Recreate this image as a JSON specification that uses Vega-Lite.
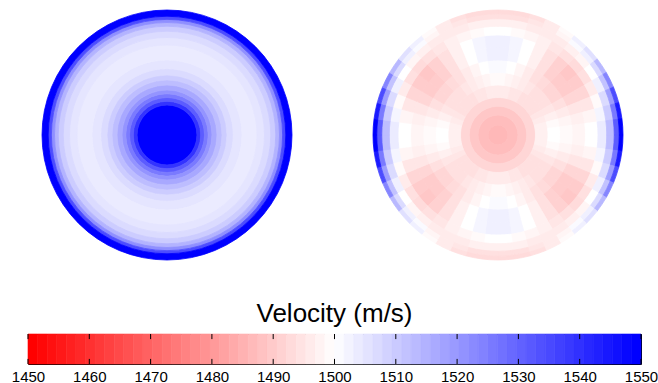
{
  "$schema": "https://vega.github.io/schema/vega-lite/v6.json",
  "background": "white",
  "padding": {"left": 10, "top": 8, "right": 0, "bottom": 0},
  "config": {"view": {"stroke": null}},
  "datasets": {
    "left": [
      {"r":0,"r2":0.24,"t":0,"t2":360,"v":1550},
      {"r":0.24,"r2":0.27,"t":0,"t2":360,"v":1540},
      {"r":0.27,"r2":0.30,"t":0,"t2":360,"v":1532},
      {"r":0.30,"r2":0.33,"t":0,"t2":360,"v":1526},
      {"r":0.33,"r2":0.36,"t":0,"t2":360,"v":1521},
      {"r":0.36,"r2":0.40,"t":0,"t2":360,"v":1517},
      {"r":0.40,"r2":0.44,"t":0,"t2":360,"v":1513},
      {"r":0.44,"r2":0.48,"t":0,"t2":360,"v":1510},
      {"r":0.48,"r2":0.53,"t":0,"t2":360,"v":1507},
      {"r":0.53,"r2":0.60,"t":0,"t2":360,"v":1505},
      {"r":0.60,"r2":0.72,"t":0,"t2":360,"v":1504},
      {"r":0.72,"r2":0.78,"t":0,"t2":360,"v":1505},
      {"r":0.78,"r2":0.83,"t":0,"t2":360,"v":1507},
      {"r":0.83,"r2":0.87,"t":0,"t2":360,"v":1510},
      {"r":0.87,"r2":0.90,"t":0,"t2":360,"v":1515},
      {"r":0.90,"r2":0.925,"t":0,"t2":360,"v":1522},
      {"r":0.925,"r2":0.95,"t":0,"t2":360,"v":1535},
      {"r":0.95,"r2":1.0,"t":0,"t2":360,"v":1550}
    ],
    "right": [
      {"r":0,"r2":0.08,"t":0,"t2":360,"v":1486},
      {"r":0.08,"r2":0.16,"t":0,"t2":360,"v":1487},
      {"r":0.16,"r2":0.23,"t":0,"t2":360,"v":1489},
      {"r":0.23,"r2":0.3,"t":0,"t2":360,"v":1492},

      {"r":0.3,"r2":0.4,"t":0,"t2":7.5,"v":1496},
      {"r":0.3,"r2":0.4,"t":7.5,"t2":15,"v":1496},
      {"r":0.3,"r2":0.4,"t":15,"t2":22.5,"v":1495},
      {"r":0.3,"r2":0.4,"t":22.5,"t2":30,"v":1495},
      {"r":0.3,"r2":0.4,"t":30,"t2":37.5,"v":1494},
      {"r":0.3,"r2":0.4,"t":37.5,"t2":45,"v":1494},
      {"r":0.3,"r2":0.4,"t":45,"t2":52.5,"v":1494},
      {"r":0.3,"r2":0.4,"t":52.5,"t2":60,"v":1494},
      {"r":0.3,"r2":0.4,"t":60,"t2":67.5,"v":1495},
      {"r":0.3,"r2":0.4,"t":67.5,"t2":75,"v":1496},
      {"r":0.3,"r2":0.4,"t":75,"t2":82.5,"v":1497},
      {"r":0.3,"r2":0.4,"t":82.5,"t2":90,"v":1497},
      {"r":0.3,"r2":0.4,"t":90,"t2":97.5,"v":1497},
      {"r":0.3,"r2":0.4,"t":97.5,"t2":105,"v":1497},
      {"r":0.3,"r2":0.4,"t":105,"t2":112.5,"v":1496},
      {"r":0.3,"r2":0.4,"t":112.5,"t2":120,"v":1495},
      {"r":0.3,"r2":0.4,"t":120,"t2":127.5,"v":1494},
      {"r":0.3,"r2":0.4,"t":127.5,"t2":135,"v":1494},
      {"r":0.3,"r2":0.4,"t":135,"t2":142.5,"v":1494},
      {"r":0.3,"r2":0.4,"t":142.5,"t2":150,"v":1494},
      {"r":0.3,"r2":0.4,"t":150,"t2":157.5,"v":1495},
      {"r":0.3,"r2":0.4,"t":157.5,"t2":165,"v":1495},
      {"r":0.3,"r2":0.4,"t":165,"t2":172.5,"v":1496},
      {"r":0.3,"r2":0.4,"t":172.5,"t2":180,"v":1496},
      {"r":0.3,"r2":0.4,"t":180,"t2":187.5,"v":1496},
      {"r":0.3,"r2":0.4,"t":187.5,"t2":195,"v":1496},
      {"r":0.3,"r2":0.4,"t":195,"t2":202.5,"v":1495},
      {"r":0.3,"r2":0.4,"t":202.5,"t2":210,"v":1495},
      {"r":0.3,"r2":0.4,"t":210,"t2":217.5,"v":1494},
      {"r":0.3,"r2":0.4,"t":217.5,"t2":225,"v":1494},
      {"r":0.3,"r2":0.4,"t":225,"t2":232.5,"v":1494},
      {"r":0.3,"r2":0.4,"t":232.5,"t2":240,"v":1494},
      {"r":0.3,"r2":0.4,"t":240,"t2":247.5,"v":1495},
      {"r":0.3,"r2":0.4,"t":247.5,"t2":255,"v":1496},
      {"r":0.3,"r2":0.4,"t":255,"t2":262.5,"v":1497},
      {"r":0.3,"r2":0.4,"t":262.5,"t2":270,"v":1497},
      {"r":0.3,"r2":0.4,"t":270,"t2":277.5,"v":1497},
      {"r":0.3,"r2":0.4,"t":277.5,"t2":285,"v":1497},
      {"r":0.3,"r2":0.4,"t":285,"t2":292.5,"v":1496},
      {"r":0.3,"r2":0.4,"t":292.5,"t2":300,"v":1495},
      {"r":0.3,"r2":0.4,"t":300,"t2":307.5,"v":1494},
      {"r":0.3,"r2":0.4,"t":307.5,"t2":315,"v":1494},
      {"r":0.3,"r2":0.4,"t":315,"t2":322.5,"v":1494},
      {"r":0.3,"r2":0.4,"t":322.5,"t2":330,"v":1494},
      {"r":0.3,"r2":0.4,"t":330,"t2":337.5,"v":1495},
      {"r":0.3,"r2":0.4,"t":337.5,"t2":345,"v":1495},
      {"r":0.3,"r2":0.4,"t":345,"t2":352.5,"v":1496},
      {"r":0.3,"r2":0.4,"t":352.5,"t2":360,"v":1496},

      {"r":0.4,"r2":0.5,"t":0,"t2":7.5,"v":1499},
      {"r":0.4,"r2":0.5,"t":7.5,"t2":15,"v":1498},
      {"r":0.4,"r2":0.5,"t":15,"t2":22.5,"v":1497},
      {"r":0.4,"r2":0.5,"t":22.5,"t2":30,"v":1496},
      {"r":0.4,"r2":0.5,"t":30,"t2":37.5,"v":1495},
      {"r":0.4,"r2":0.5,"t":37.5,"t2":45,"v":1494},
      {"r":0.4,"r2":0.5,"t":45,"t2":52.5,"v":1494},
      {"r":0.4,"r2":0.5,"t":52.5,"t2":60,"v":1494},
      {"r":0.4,"r2":0.5,"t":60,"t2":67.5,"v":1495},
      {"r":0.4,"r2":0.5,"t":67.5,"t2":75,"v":1497},
      {"r":0.4,"r2":0.5,"t":75,"t2":82.5,"v":1499},
      {"r":0.4,"r2":0.5,"t":82.5,"t2":90,"v":1500},
      {"r":0.4,"r2":0.5,"t":90,"t2":97.5,"v":1500},
      {"r":0.4,"r2":0.5,"t":97.5,"t2":105,"v":1499},
      {"r":0.4,"r2":0.5,"t":105,"t2":112.5,"v":1497},
      {"r":0.4,"r2":0.5,"t":112.5,"t2":120,"v":1495},
      {"r":0.4,"r2":0.5,"t":120,"t2":127.5,"v":1494},
      {"r":0.4,"r2":0.5,"t":127.5,"t2":135,"v":1494},
      {"r":0.4,"r2":0.5,"t":135,"t2":142.5,"v":1494},
      {"r":0.4,"r2":0.5,"t":142.5,"t2":150,"v":1495},
      {"r":0.4,"r2":0.5,"t":150,"t2":157.5,"v":1496},
      {"r":0.4,"r2":0.5,"t":157.5,"t2":165,"v":1497},
      {"r":0.4,"r2":0.5,"t":165,"t2":172.5,"v":1498},
      {"r":0.4,"r2":0.5,"t":172.5,"t2":180,"v":1499},
      {"r":0.4,"r2":0.5,"t":180,"t2":187.5,"v":1499},
      {"r":0.4,"r2":0.5,"t":187.5,"t2":195,"v":1498},
      {"r":0.4,"r2":0.5,"t":195,"t2":202.5,"v":1497},
      {"r":0.4,"r2":0.5,"t":202.5,"t2":210,"v":1496},
      {"r":0.4,"r2":0.5,"t":210,"t2":217.5,"v":1495},
      {"r":0.4,"r2":0.5,"t":217.5,"t2":225,"v":1494},
      {"r":0.4,"r2":0.5,"t":225,"t2":232.5,"v":1494},
      {"r":0.4,"r2":0.5,"t":232.5,"t2":240,"v":1494},
      {"r":0.4,"r2":0.5,"t":240,"t2":247.5,"v":1495},
      {"r":0.4,"r2":0.5,"t":247.5,"t2":255,"v":1497},
      {"r":0.4,"r2":0.5,"t":255,"t2":262.5,"v":1499},
      {"r":0.4,"r2":0.5,"t":262.5,"t2":270,"v":1500},
      {"r":0.4,"r2":0.5,"t":270,"t2":277.5,"v":1500},
      {"r":0.4,"r2":0.5,"t":277.5,"t2":285,"v":1499},
      {"r":0.4,"r2":0.5,"t":285,"t2":292.5,"v":1497},
      {"r":0.4,"r2":0.5,"t":292.5,"t2":300,"v":1495},
      {"r":0.4,"r2":0.5,"t":300,"t2":307.5,"v":1494},
      {"r":0.4,"r2":0.5,"t":307.5,"t2":315,"v":1494},
      {"r":0.4,"r2":0.5,"t":315,"t2":322.5,"v":1494},
      {"r":0.4,"r2":0.5,"t":322.5,"t2":330,"v":1495},
      {"r":0.4,"r2":0.5,"t":330,"t2":337.5,"v":1496},
      {"r":0.4,"r2":0.5,"t":337.5,"t2":345,"v":1497},
      {"r":0.4,"r2":0.5,"t":345,"t2":352.5,"v":1498},
      {"r":0.4,"r2":0.5,"t":352.5,"t2":360,"v":1499},

      {"r":0.5,"r2":0.6,"t":0,"t2":7.5,"v":1501},
      {"r":0.5,"r2":0.6,"t":7.5,"t2":15,"v":1500},
      {"r":0.5,"r2":0.6,"t":15,"t2":22.5,"v":1498},
      {"r":0.5,"r2":0.6,"t":22.5,"t2":30,"v":1496},
      {"r":0.5,"r2":0.6,"t":30,"t2":37.5,"v":1494},
      {"r":0.5,"r2":0.6,"t":37.5,"t2":45,"v":1493},
      {"r":0.5,"r2":0.6,"t":45,"t2":52.5,"v":1492},
      {"r":0.5,"r2":0.6,"t":52.5,"t2":60,"v":1492},
      {"r":0.5,"r2":0.6,"t":60,"t2":67.5,"v":1494},
      {"r":0.5,"r2":0.6,"t":67.5,"t2":75,"v":1496},
      {"r":0.5,"r2":0.6,"t":75,"t2":82.5,"v":1498},
      {"r":0.5,"r2":0.6,"t":82.5,"t2":90,"v":1499},
      {"r":0.5,"r2":0.6,"t":90,"t2":97.5,"v":1499},
      {"r":0.5,"r2":0.6,"t":97.5,"t2":105,"v":1498},
      {"r":0.5,"r2":0.6,"t":105,"t2":112.5,"v":1496},
      {"r":0.5,"r2":0.6,"t":112.5,"t2":120,"v":1494},
      {"r":0.5,"r2":0.6,"t":120,"t2":127.5,"v":1492},
      {"r":0.5,"r2":0.6,"t":127.5,"t2":135,"v":1492},
      {"r":0.5,"r2":0.6,"t":135,"t2":142.5,"v":1493},
      {"r":0.5,"r2":0.6,"t":142.5,"t2":150,"v":1494},
      {"r":0.5,"r2":0.6,"t":150,"t2":157.5,"v":1496},
      {"r":0.5,"r2":0.6,"t":157.5,"t2":165,"v":1498},
      {"r":0.5,"r2":0.6,"t":165,"t2":172.5,"v":1500},
      {"r":0.5,"r2":0.6,"t":172.5,"t2":180,"v":1501},
      {"r":0.5,"r2":0.6,"t":180,"t2":187.5,"v":1501},
      {"r":0.5,"r2":0.6,"t":187.5,"t2":195,"v":1500},
      {"r":0.5,"r2":0.6,"t":195,"t2":202.5,"v":1498},
      {"r":0.5,"r2":0.6,"t":202.5,"t2":210,"v":1496},
      {"r":0.5,"r2":0.6,"t":210,"t2":217.5,"v":1494},
      {"r":0.5,"r2":0.6,"t":217.5,"t2":225,"v":1493},
      {"r":0.5,"r2":0.6,"t":225,"t2":232.5,"v":1492},
      {"r":0.5,"r2":0.6,"t":232.5,"t2":240,"v":1492},
      {"r":0.5,"r2":0.6,"t":240,"t2":247.5,"v":1494},
      {"r":0.5,"r2":0.6,"t":247.5,"t2":255,"v":1496},
      {"r":0.5,"r2":0.6,"t":255,"t2":262.5,"v":1498},
      {"r":0.5,"r2":0.6,"t":262.5,"t2":270,"v":1499},
      {"r":0.5,"r2":0.6,"t":270,"t2":277.5,"v":1499},
      {"r":0.5,"r2":0.6,"t":277.5,"t2":285,"v":1498},
      {"r":0.5,"r2":0.6,"t":285,"t2":292.5,"v":1496},
      {"r":0.5,"r2":0.6,"t":292.5,"t2":300,"v":1494},
      {"r":0.5,"r2":0.6,"t":300,"t2":307.5,"v":1492},
      {"r":0.5,"r2":0.6,"t":307.5,"t2":315,"v":1492},
      {"r":0.5,"r2":0.6,"t":315,"t2":322.5,"v":1493},
      {"r":0.5,"r2":0.6,"t":322.5,"t2":330,"v":1494},
      {"r":0.5,"r2":0.6,"t":330,"t2":337.5,"v":1496},
      {"r":0.5,"r2":0.6,"t":337.5,"t2":345,"v":1498},
      {"r":0.5,"r2":0.6,"t":345,"t2":352.5,"v":1500},
      {"r":0.5,"r2":0.6,"t":352.5,"t2":360,"v":1501},

      {"r":0.6,"r2":0.7,"t":0,"t2":7.5,"v":1503},
      {"r":0.6,"r2":0.7,"t":7.5,"t2":15,"v":1502},
      {"r":0.6,"r2":0.7,"t":15,"t2":22.5,"v":1500},
      {"r":0.6,"r2":0.7,"t":22.5,"t2":30,"v":1497},
      {"r":0.6,"r2":0.7,"t":30,"t2":37.5,"v":1494},
      {"r":0.6,"r2":0.7,"t":37.5,"t2":45,"v":1491},
      {"r":0.6,"r2":0.7,"t":45,"t2":52.5,"v":1490},
      {"r":0.6,"r2":0.7,"t":52.5,"t2":60,"v":1490},
      {"r":0.6,"r2":0.7,"t":60,"t2":67.5,"v":1492},
      {"r":0.6,"r2":0.7,"t":67.5,"t2":75,"v":1495},
      {"r":0.6,"r2":0.7,"t":75,"t2":82.5,"v":1497},
      {"r":0.6,"r2":0.7,"t":82.5,"t2":90,"v":1498},
      {"r":0.6,"r2":0.7,"t":90,"t2":97.5,"v":1498},
      {"r":0.6,"r2":0.7,"t":97.5,"t2":105,"v":1497},
      {"r":0.6,"r2":0.7,"t":105,"t2":112.5,"v":1495},
      {"r":0.6,"r2":0.7,"t":112.5,"t2":120,"v":1492},
      {"r":0.6,"r2":0.7,"t":120,"t2":127.5,"v":1490},
      {"r":0.6,"r2":0.7,"t":127.5,"t2":135,"v":1490},
      {"r":0.6,"r2":0.7,"t":135,"t2":142.5,"v":1491},
      {"r":0.6,"r2":0.7,"t":142.5,"t2":150,"v":1494},
      {"r":0.6,"r2":0.7,"t":150,"t2":157.5,"v":1497},
      {"r":0.6,"r2":0.7,"t":157.5,"t2":165,"v":1500},
      {"r":0.6,"r2":0.7,"t":165,"t2":172.5,"v":1502},
      {"r":0.6,"r2":0.7,"t":172.5,"t2":180,"v":1503},
      {"r":0.6,"r2":0.7,"t":180,"t2":187.5,"v":1503},
      {"r":0.6,"r2":0.7,"t":187.5,"t2":195,"v":1502},
      {"r":0.6,"r2":0.7,"t":195,"t2":202.5,"v":1500},
      {"r":0.6,"r2":0.7,"t":202.5,"t2":210,"v":1497},
      {"r":0.6,"r2":0.7,"t":210,"t2":217.5,"v":1494},
      {"r":0.6,"r2":0.7,"t":217.5,"t2":225,"v":1491},
      {"r":0.6,"r2":0.7,"t":225,"t2":232.5,"v":1490},
      {"r":0.6,"r2":0.7,"t":232.5,"t2":240,"v":1490},
      {"r":0.6,"r2":0.7,"t":240,"t2":247.5,"v":1492},
      {"r":0.6,"r2":0.7,"t":247.5,"t2":255,"v":1495},
      {"r":0.6,"r2":0.7,"t":255,"t2":262.5,"v":1497},
      {"r":0.6,"r2":0.7,"t":262.5,"t2":270,"v":1498},
      {"r":0.6,"r2":0.7,"t":270,"t2":277.5,"v":1498},
      {"r":0.6,"r2":0.7,"t":277.5,"t2":285,"v":1497},
      {"r":0.6,"r2":0.7,"t":285,"t2":292.5,"v":1495},
      {"r":0.6,"r2":0.7,"t":292.5,"t2":300,"v":1492},
      {"r":0.6,"r2":0.7,"t":300,"t2":307.5,"v":1490},
      {"r":0.6,"r2":0.7,"t":307.5,"t2":315,"v":1490},
      {"r":0.6,"r2":0.7,"t":315,"t2":322.5,"v":1491},
      {"r":0.6,"r2":0.7,"t":322.5,"t2":330,"v":1494},
      {"r":0.6,"r2":0.7,"t":330,"t2":337.5,"v":1497},
      {"r":0.6,"r2":0.7,"t":337.5,"t2":345,"v":1500},
      {"r":0.6,"r2":0.7,"t":345,"t2":352.5,"v":1502},
      {"r":0.6,"r2":0.7,"t":352.5,"t2":360,"v":1503},

      {"r":0.7,"r2":0.8,"t":0,"t2":7.5,"v":1503},
      {"r":0.7,"r2":0.8,"t":7.5,"t2":15,"v":1502},
      {"r":0.7,"r2":0.8,"t":15,"t2":22.5,"v":1500},
      {"r":0.7,"r2":0.8,"t":22.5,"t2":30,"v":1497},
      {"r":0.7,"r2":0.8,"t":30,"t2":37.5,"v":1494},
      {"r":0.7,"r2":0.8,"t":37.5,"t2":45,"v":1491},
      {"r":0.7,"r2":0.8,"t":45,"t2":52.5,"v":1489},
      {"r":0.7,"r2":0.8,"t":52.5,"t2":60,"v":1490},
      {"r":0.7,"r2":0.8,"t":60,"t2":67.5,"v":1492},
      {"r":0.7,"r2":0.8,"t":67.5,"t2":75,"v":1495},
      {"r":0.7,"r2":0.8,"t":75,"t2":82.5,"v":1498},
      {"r":0.7,"r2":0.8,"t":82.5,"t2":90,"v":1500},
      {"r":0.7,"r2":0.8,"t":90,"t2":97.5,"v":1500},
      {"r":0.7,"r2":0.8,"t":97.5,"t2":105,"v":1498},
      {"r":0.7,"r2":0.8,"t":105,"t2":112.5,"v":1495},
      {"r":0.7,"r2":0.8,"t":112.5,"t2":120,"v":1492},
      {"r":0.7,"r2":0.8,"t":120,"t2":127.5,"v":1490},
      {"r":0.7,"r2":0.8,"t":127.5,"t2":135,"v":1489},
      {"r":0.7,"r2":0.8,"t":135,"t2":142.5,"v":1491},
      {"r":0.7,"r2":0.8,"t":142.5,"t2":150,"v":1494},
      {"r":0.7,"r2":0.8,"t":150,"t2":157.5,"v":1497},
      {"r":0.7,"r2":0.8,"t":157.5,"t2":165,"v":1500},
      {"r":0.7,"r2":0.8,"t":165,"t2":172.5,"v":1502},
      {"r":0.7,"r2":0.8,"t":172.5,"t2":180,"v":1503},
      {"r":0.7,"r2":0.8,"t":180,"t2":187.5,"v":1503},
      {"r":0.7,"r2":0.8,"t":187.5,"t2":195,"v":1502},
      {"r":0.7,"r2":0.8,"t":195,"t2":202.5,"v":1500},
      {"r":0.7,"r2":0.8,"t":202.5,"t2":210,"v":1497},
      {"r":0.7,"r2":0.8,"t":210,"t2":217.5,"v":1494},
      {"r":0.7,"r2":0.8,"t":217.5,"t2":225,"v":1491},
      {"r":0.7,"r2":0.8,"t":225,"t2":232.5,"v":1489},
      {"r":0.7,"r2":0.8,"t":232.5,"t2":240,"v":1490},
      {"r":0.7,"r2":0.8,"t":240,"t2":247.5,"v":1492},
      {"r":0.7,"r2":0.8,"t":247.5,"t2":255,"v":1495},
      {"r":0.7,"r2":0.8,"t":255,"t2":262.5,"v":1498},
      {"r":0.7,"r2":0.8,"t":262.5,"t2":270,"v":1500},
      {"r":0.7,"r2":0.8,"t":270,"t2":277.5,"v":1500},
      {"r":0.7,"r2":0.8,"t":277.5,"t2":285,"v":1498},
      {"r":0.7,"r2":0.8,"t":285,"t2":292.5,"v":1495},
      {"r":0.7,"r2":0.8,"t":292.5,"t2":300,"v":1492},
      {"r":0.7,"r2":0.8,"t":300,"t2":307.5,"v":1490},
      {"r":0.7,"r2":0.8,"t":307.5,"t2":315,"v":1489},
      {"r":0.7,"r2":0.8,"t":315,"t2":322.5,"v":1491},
      {"r":0.7,"r2":0.8,"t":322.5,"t2":330,"v":1494},
      {"r":0.7,"r2":0.8,"t":330,"t2":337.5,"v":1497},
      {"r":0.7,"r2":0.8,"t":337.5,"t2":345,"v":1500},
      {"r":0.7,"r2":0.8,"t":345,"t2":352.5,"v":1502},
      {"r":0.7,"r2":0.8,"t":352.5,"t2":360,"v":1503},

      {"r":0.8,"r2":0.87,"t":0,"t2":7.5,"v":1500},
      {"r":0.8,"r2":0.87,"t":7.5,"t2":15,"v":1499},
      {"r":0.8,"r2":0.87,"t":15,"t2":22.5,"v":1498},
      {"r":0.8,"r2":0.87,"t":22.5,"t2":30,"v":1497},
      {"r":0.8,"r2":0.87,"t":30,"t2":37.5,"v":1495},
      {"r":0.8,"r2":0.87,"t":37.5,"t2":45,"v":1494},
      {"r":0.8,"r2":0.87,"t":45,"t2":52.5,"v":1493},
      {"r":0.8,"r2":0.87,"t":52.5,"t2":60,"v":1494},
      {"r":0.8,"r2":0.87,"t":60,"t2":67.5,"v":1496},
      {"r":0.8,"r2":0.87,"t":67.5,"t2":75,"v":1499},
      {"r":0.8,"r2":0.87,"t":75,"t2":82.5,"v":1502},
      {"r":0.8,"r2":0.87,"t":82.5,"t2":90,"v":1504},
      {"r":0.8,"r2":0.87,"t":90,"t2":97.5,"v":1504},
      {"r":0.8,"r2":0.87,"t":97.5,"t2":105,"v":1502},
      {"r":0.8,"r2":0.87,"t":105,"t2":112.5,"v":1499},
      {"r":0.8,"r2":0.87,"t":112.5,"t2":120,"v":1496},
      {"r":0.8,"r2":0.87,"t":120,"t2":127.5,"v":1494},
      {"r":0.8,"r2":0.87,"t":127.5,"t2":135,"v":1493},
      {"r":0.8,"r2":0.87,"t":135,"t2":142.5,"v":1494},
      {"r":0.8,"r2":0.87,"t":142.5,"t2":150,"v":1495},
      {"r":0.8,"r2":0.87,"t":150,"t2":157.5,"v":1497},
      {"r":0.8,"r2":0.87,"t":157.5,"t2":165,"v":1498},
      {"r":0.8,"r2":0.87,"t":165,"t2":172.5,"v":1499},
      {"r":0.8,"r2":0.87,"t":172.5,"t2":180,"v":1500},
      {"r":0.8,"r2":0.87,"t":180,"t2":187.5,"v":1500},
      {"r":0.8,"r2":0.87,"t":187.5,"t2":195,"v":1499},
      {"r":0.8,"r2":0.87,"t":195,"t2":202.5,"v":1498},
      {"r":0.8,"r2":0.87,"t":202.5,"t2":210,"v":1497},
      {"r":0.8,"r2":0.87,"t":210,"t2":217.5,"v":1495},
      {"r":0.8,"r2":0.87,"t":217.5,"t2":225,"v":1494},
      {"r":0.8,"r2":0.87,"t":225,"t2":232.5,"v":1493},
      {"r":0.8,"r2":0.87,"t":232.5,"t2":240,"v":1494},
      {"r":0.8,"r2":0.87,"t":240,"t2":247.5,"v":1496},
      {"r":0.8,"r2":0.87,"t":247.5,"t2":255,"v":1499},
      {"r":0.8,"r2":0.87,"t":255,"t2":262.5,"v":1502},
      {"r":0.8,"r2":0.87,"t":262.5,"t2":270,"v":1504},
      {"r":0.8,"r2":0.87,"t":270,"t2":277.5,"v":1504},
      {"r":0.8,"r2":0.87,"t":277.5,"t2":285,"v":1502},
      {"r":0.8,"r2":0.87,"t":285,"t2":292.5,"v":1499},
      {"r":0.8,"r2":0.87,"t":292.5,"t2":300,"v":1496},
      {"r":0.8,"r2":0.87,"t":300,"t2":307.5,"v":1494},
      {"r":0.8,"r2":0.87,"t":307.5,"t2":315,"v":1493},
      {"r":0.8,"r2":0.87,"t":315,"t2":322.5,"v":1494},
      {"r":0.8,"r2":0.87,"t":322.5,"t2":330,"v":1495},
      {"r":0.8,"r2":0.87,"t":330,"t2":337.5,"v":1497},
      {"r":0.8,"r2":0.87,"t":337.5,"t2":345,"v":1498},
      {"r":0.8,"r2":0.87,"t":345,"t2":352.5,"v":1499},
      {"r":0.8,"r2":0.87,"t":352.5,"t2":360,"v":1500},

      {"r":0.87,"r2":0.93,"t":0,"t2":7.5,"v":1497},
      {"r":0.87,"r2":0.93,"t":7.5,"t2":15,"v":1497},
      {"r":0.87,"r2":0.93,"t":15,"t2":22.5,"v":1496},
      {"r":0.87,"r2":0.93,"t":22.5,"t2":30,"v":1496},
      {"r":0.87,"r2":0.93,"t":30,"t2":37.5,"v":1496},
      {"r":0.87,"r2":0.93,"t":37.5,"t2":45,"v":1497},
      {"r":0.87,"r2":0.93,"t":45,"t2":52.5,"v":1498},
      {"r":0.87,"r2":0.93,"t":52.5,"t2":60,"v":1500},
      {"r":0.87,"r2":0.93,"t":60,"t2":67.5,"v":1503},
      {"r":0.87,"r2":0.93,"t":67.5,"t2":75,"v":1507},
      {"r":0.87,"r2":0.93,"t":75,"t2":82.5,"v":1510},
      {"r":0.87,"r2":0.93,"t":82.5,"t2":90,"v":1513},
      {"r":0.87,"r2":0.93,"t":90,"t2":97.5,"v":1513},
      {"r":0.87,"r2":0.93,"t":97.5,"t2":105,"v":1510},
      {"r":0.87,"r2":0.93,"t":105,"t2":112.5,"v":1507},
      {"r":0.87,"r2":0.93,"t":112.5,"t2":120,"v":1503},
      {"r":0.87,"r2":0.93,"t":120,"t2":127.5,"v":1500},
      {"r":0.87,"r2":0.93,"t":127.5,"t2":135,"v":1498},
      {"r":0.87,"r2":0.93,"t":135,"t2":142.5,"v":1497},
      {"r":0.87,"r2":0.93,"t":142.5,"t2":150,"v":1496},
      {"r":0.87,"r2":0.93,"t":150,"t2":157.5,"v":1496},
      {"r":0.87,"r2":0.93,"t":157.5,"t2":165,"v":1496},
      {"r":0.87,"r2":0.93,"t":165,"t2":172.5,"v":1497},
      {"r":0.87,"r2":0.93,"t":172.5,"t2":180,"v":1497},
      {"r":0.87,"r2":0.93,"t":180,"t2":187.5,"v":1497},
      {"r":0.87,"r2":0.93,"t":187.5,"t2":195,"v":1497},
      {"r":0.87,"r2":0.93,"t":195,"t2":202.5,"v":1496},
      {"r":0.87,"r2":0.93,"t":202.5,"t2":210,"v":1496},
      {"r":0.87,"r2":0.93,"t":210,"t2":217.5,"v":1496},
      {"r":0.87,"r2":0.93,"t":217.5,"t2":225,"v":1497},
      {"r":0.87,"r2":0.93,"t":225,"t2":232.5,"v":1498},
      {"r":0.87,"r2":0.93,"t":232.5,"t2":240,"v":1500},
      {"r":0.87,"r2":0.93,"t":240,"t2":247.5,"v":1503},
      {"r":0.87,"r2":0.93,"t":247.5,"t2":255,"v":1507},
      {"r":0.87,"r2":0.93,"t":255,"t2":262.5,"v":1510},
      {"r":0.87,"r2":0.93,"t":262.5,"t2":270,"v":1513},
      {"r":0.87,"r2":0.93,"t":270,"t2":277.5,"v":1513},
      {"r":0.87,"r2":0.93,"t":277.5,"t2":285,"v":1510},
      {"r":0.87,"r2":0.93,"t":285,"t2":292.5,"v":1507},
      {"r":0.87,"r2":0.93,"t":292.5,"t2":300,"v":1503},
      {"r":0.87,"r2":0.93,"t":300,"t2":307.5,"v":1500},
      {"r":0.87,"r2":0.93,"t":307.5,"t2":315,"v":1498},
      {"r":0.87,"r2":0.93,"t":315,"t2":322.5,"v":1497},
      {"r":0.87,"r2":0.93,"t":322.5,"t2":330,"v":1496},
      {"r":0.87,"r2":0.93,"t":330,"t2":337.5,"v":1496},
      {"r":0.87,"r2":0.93,"t":337.5,"t2":345,"v":1496},
      {"r":0.87,"r2":0.93,"t":345,"t2":352.5,"v":1497},
      {"r":0.87,"r2":0.93,"t":352.5,"t2":360,"v":1497},

      {"r":0.93,"r2":0.97,"t":0,"t2":7.5,"v":1494},
      {"r":0.93,"r2":0.97,"t":7.5,"t2":15,"v":1494},
      {"r":0.93,"r2":0.97,"t":15,"t2":22.5,"v":1495},
      {"r":0.93,"r2":0.97,"t":22.5,"t2":30,"v":1496},
      {"r":0.93,"r2":0.97,"t":30,"t2":37.5,"v":1498},
      {"r":0.93,"r2":0.97,"t":37.5,"t2":45,"v":1501},
      {"r":0.93,"r2":0.97,"t":45,"t2":52.5,"v":1503},
      {"r":0.93,"r2":0.97,"t":52.5,"t2":60,"v":1507},
      {"r":0.93,"r2":0.97,"t":60,"t2":67.5,"v":1512},
      {"r":0.93,"r2":0.97,"t":67.5,"t2":75,"v":1519},
      {"r":0.93,"r2":0.97,"t":75,"t2":82.5,"v":1526},
      {"r":0.93,"r2":0.97,"t":82.5,"t2":90,"v":1532},
      {"r":0.93,"r2":0.97,"t":90,"t2":97.5,"v":1532},
      {"r":0.93,"r2":0.97,"t":97.5,"t2":105,"v":1526},
      {"r":0.93,"r2":0.97,"t":105,"t2":112.5,"v":1519},
      {"r":0.93,"r2":0.97,"t":112.5,"t2":120,"v":1512},
      {"r":0.93,"r2":0.97,"t":120,"t2":127.5,"v":1507},
      {"r":0.93,"r2":0.97,"t":127.5,"t2":135,"v":1503},
      {"r":0.93,"r2":0.97,"t":135,"t2":142.5,"v":1501},
      {"r":0.93,"r2":0.97,"t":142.5,"t2":150,"v":1498},
      {"r":0.93,"r2":0.97,"t":150,"t2":157.5,"v":1496},
      {"r":0.93,"r2":0.97,"t":157.5,"t2":165,"v":1495},
      {"r":0.93,"r2":0.97,"t":165,"t2":172.5,"v":1494},
      {"r":0.93,"r2":0.97,"t":172.5,"t2":180,"v":1494},
      {"r":0.93,"r2":0.97,"t":180,"t2":187.5,"v":1494},
      {"r":0.93,"r2":0.97,"t":187.5,"t2":195,"v":1494},
      {"r":0.93,"r2":0.97,"t":195,"t2":202.5,"v":1495},
      {"r":0.93,"r2":0.97,"t":202.5,"t2":210,"v":1496},
      {"r":0.93,"r2":0.97,"t":210,"t2":217.5,"v":1498},
      {"r":0.93,"r2":0.97,"t":217.5,"t2":225,"v":1501},
      {"r":0.93,"r2":0.97,"t":225,"t2":232.5,"v":1503},
      {"r":0.93,"r2":0.97,"t":232.5,"t2":240,"v":1507},
      {"r":0.93,"r2":0.97,"t":240,"t2":247.5,"v":1512},
      {"r":0.93,"r2":0.97,"t":247.5,"t2":255,"v":1519},
      {"r":0.93,"r2":0.97,"t":255,"t2":262.5,"v":1526},
      {"r":0.93,"r2":0.97,"t":262.5,"t2":270,"v":1532},
      {"r":0.93,"r2":0.97,"t":270,"t2":277.5,"v":1532},
      {"r":0.93,"r2":0.97,"t":277.5,"t2":285,"v":1526},
      {"r":0.93,"r2":0.97,"t":285,"t2":292.5,"v":1519},
      {"r":0.93,"r2":0.97,"t":292.5,"t2":300,"v":1512},
      {"r":0.93,"r2":0.97,"t":300,"t2":307.5,"v":1507},
      {"r":0.93,"r2":0.97,"t":307.5,"t2":315,"v":1503},
      {"r":0.93,"r2":0.97,"t":315,"t2":322.5,"v":1501},
      {"r":0.93,"r2":0.97,"t":322.5,"t2":330,"v":1498},
      {"r":0.93,"r2":0.97,"t":330,"t2":337.5,"v":1496},
      {"r":0.93,"r2":0.97,"t":337.5,"t2":345,"v":1495},
      {"r":0.93,"r2":0.97,"t":345,"t2":352.5,"v":1494},
      {"r":0.93,"r2":0.97,"t":352.5,"t2":360,"v":1494},

      {"r":0.97,"r2":1.0,"t":0,"t2":7.5,"v":1493},
      {"r":0.97,"r2":1.0,"t":7.5,"t2":15,"v":1493},
      {"r":0.97,"r2":1.0,"t":15,"t2":22.5,"v":1494},
      {"r":0.97,"r2":1.0,"t":22.5,"t2":30,"v":1496},
      {"r":0.97,"r2":1.0,"t":30,"t2":37.5,"v":1499},
      {"r":0.97,"r2":1.0,"t":37.5,"t2":45,"v":1503},
      {"r":0.97,"r2":1.0,"t":45,"t2":52.5,"v":1506},
      {"r":0.97,"r2":1.0,"t":52.5,"t2":60,"v":1514},
      {"r":0.97,"r2":1.0,"t":60,"t2":67.5,"v":1524},
      {"r":0.97,"r2":1.0,"t":67.5,"t2":75,"v":1535},
      {"r":0.97,"r2":1.0,"t":75,"t2":82.5,"v":1545},
      {"r":0.97,"r2":1.0,"t":82.5,"t2":90,"v":1550},
      {"r":0.97,"r2":1.0,"t":90,"t2":97.5,"v":1550},
      {"r":0.97,"r2":1.0,"t":97.5,"t2":105,"v":1545},
      {"r":0.97,"r2":1.0,"t":105,"t2":112.5,"v":1535},
      {"r":0.97,"r2":1.0,"t":112.5,"t2":120,"v":1524},
      {"r":0.97,"r2":1.0,"t":120,"t2":127.5,"v":1514},
      {"r":0.97,"r2":1.0,"t":127.5,"t2":135,"v":1506},
      {"r":0.97,"r2":1.0,"t":135,"t2":142.5,"v":1503},
      {"r":0.97,"r2":1.0,"t":142.5,"t2":150,"v":1499},
      {"r":0.97,"r2":1.0,"t":150,"t2":157.5,"v":1496},
      {"r":0.97,"r2":1.0,"t":157.5,"t2":165,"v":1494},
      {"r":0.97,"r2":1.0,"t":165,"t2":172.5,"v":1493},
      {"r":0.97,"r2":1.0,"t":172.5,"t2":180,"v":1493},
      {"r":0.97,"r2":1.0,"t":180,"t2":187.5,"v":1493},
      {"r":0.97,"r2":1.0,"t":187.5,"t2":195,"v":1493},
      {"r":0.97,"r2":1.0,"t":195,"t2":202.5,"v":1494},
      {"r":0.97,"r2":1.0,"t":202.5,"t2":210,"v":1496},
      {"r":0.97,"r2":1.0,"t":210,"t2":217.5,"v":1499},
      {"r":0.97,"r2":1.0,"t":217.5,"t2":225,"v":1503},
      {"r":0.97,"r2":1.0,"t":225,"t2":232.5,"v":1506},
      {"r":0.97,"r2":1.0,"t":232.5,"t2":240,"v":1514},
      {"r":0.97,"r2":1.0,"t":240,"t2":247.5,"v":1524},
      {"r":0.97,"r2":1.0,"t":247.5,"t2":255,"v":1535},
      {"r":0.97,"r2":1.0,"t":255,"t2":262.5,"v":1545},
      {"r":0.97,"r2":1.0,"t":262.5,"t2":270,"v":1550},
      {"r":0.97,"r2":1.0,"t":270,"t2":277.5,"v":1550},
      {"r":0.97,"r2":1.0,"t":277.5,"t2":285,"v":1545},
      {"r":0.97,"r2":1.0,"t":285,"t2":292.5,"v":1535},
      {"r":0.97,"r2":1.0,"t":292.5,"t2":300,"v":1524},
      {"r":0.97,"r2":1.0,"t":300,"t2":307.5,"v":1514},
      {"r":0.97,"r2":1.0,"t":307.5,"t2":315,"v":1506},
      {"r":0.97,"r2":1.0,"t":315,"t2":322.5,"v":1503},
      {"r":0.97,"r2":1.0,"t":322.5,"t2":330,"v":1499},
      {"r":0.97,"r2":1.0,"t":330,"t2":337.5,"v":1496},
      {"r":0.97,"r2":1.0,"t":337.5,"t2":345,"v":1494},
      {"r":0.97,"r2":1.0,"t":345,"t2":352.5,"v":1493},
      {"r":0.97,"r2":1.0,"t":352.5,"t2":360,"v":1493}
    ],
    "bar": [
      {"lo":1450,"hi":1451.5625,"v":1450},
      {"lo":1451.5625,"hi":1453.125,"v":1451.59},
      {"lo":1453.125,"hi":1454.6875,"v":1453.17},
      {"lo":1454.6875,"hi":1456.25,"v":1454.76},
      {"lo":1456.25,"hi":1457.8125,"v":1456.35},
      {"lo":1457.8125,"hi":1459.375,"v":1457.94},
      {"lo":1459.375,"hi":1460.9375,"v":1459.52},
      {"lo":1460.9375,"hi":1462.5,"v":1461.11},
      {"lo":1462.5,"hi":1464.0625,"v":1462.7},
      {"lo":1464.0625,"hi":1465.625,"v":1464.29},
      {"lo":1465.625,"hi":1467.1875,"v":1465.87},
      {"lo":1467.1875,"hi":1468.75,"v":1467.46},
      {"lo":1468.75,"hi":1470.3125,"v":1469.05},
      {"lo":1470.3125,"hi":1471.875,"v":1470.63},
      {"lo":1471.875,"hi":1473.4375,"v":1472.22},
      {"lo":1473.4375,"hi":1475,"v":1473.81},
      {"lo":1475,"hi":1476.5625,"v":1475.4},
      {"lo":1476.5625,"hi":1478.125,"v":1476.98},
      {"lo":1478.125,"hi":1479.6875,"v":1478.57},
      {"lo":1479.6875,"hi":1481.25,"v":1480.16},
      {"lo":1481.25,"hi":1482.8125,"v":1481.75},
      {"lo":1482.8125,"hi":1484.375,"v":1483.33},
      {"lo":1484.375,"hi":1485.9375,"v":1484.92},
      {"lo":1485.9375,"hi":1487.5,"v":1486.51},
      {"lo":1487.5,"hi":1489.0625,"v":1488.1},
      {"lo":1489.0625,"hi":1490.625,"v":1489.68},
      {"lo":1490.625,"hi":1492.1875,"v":1491.27},
      {"lo":1492.1875,"hi":1493.75,"v":1492.86},
      {"lo":1493.75,"hi":1495.3125,"v":1494.44},
      {"lo":1495.3125,"hi":1496.875,"v":1496.03},
      {"lo":1496.875,"hi":1498.4375,"v":1497.62},
      {"lo":1498.4375,"hi":1500,"v":1499.21},
      {"lo":1500,"hi":1501.5625,"v":1500.79},
      {"lo":1501.5625,"hi":1503.125,"v":1502.38},
      {"lo":1503.125,"hi":1504.6875,"v":1503.97},
      {"lo":1504.6875,"hi":1506.25,"v":1505.56},
      {"lo":1506.25,"hi":1507.8125,"v":1507.14},
      {"lo":1507.8125,"hi":1509.375,"v":1508.73},
      {"lo":1509.375,"hi":1510.9375,"v":1510.32},
      {"lo":1510.9375,"hi":1512.5,"v":1511.9},
      {"lo":1512.5,"hi":1514.0625,"v":1513.49},
      {"lo":1514.0625,"hi":1515.625,"v":1515.08},
      {"lo":1515.625,"hi":1517.1875,"v":1516.67},
      {"lo":1517.1875,"hi":1518.75,"v":1518.25},
      {"lo":1518.75,"hi":1520.3125,"v":1519.84},
      {"lo":1520.3125,"hi":1521.875,"v":1521.43},
      {"lo":1521.875,"hi":1523.4375,"v":1523.02},
      {"lo":1523.4375,"hi":1525,"v":1524.6},
      {"lo":1525,"hi":1526.5625,"v":1526.19},
      {"lo":1526.5625,"hi":1528.125,"v":1527.78},
      {"lo":1528.125,"hi":1529.6875,"v":1529.37},
      {"lo":1529.6875,"hi":1531.25,"v":1530.95},
      {"lo":1531.25,"hi":1532.8125,"v":1532.54},
      {"lo":1532.8125,"hi":1534.375,"v":1534.13},
      {"lo":1534.375,"hi":1535.9375,"v":1535.71},
      {"lo":1535.9375,"hi":1537.5,"v":1537.3},
      {"lo":1537.5,"hi":1539.0625,"v":1538.89},
      {"lo":1539.0625,"hi":1540.625,"v":1540.48},
      {"lo":1540.625,"hi":1542.1875,"v":1542.06},
      {"lo":1542.1875,"hi":1543.75,"v":1543.65},
      {"lo":1543.75,"hi":1545.3125,"v":1545.24},
      {"lo":1545.3125,"hi":1546.875,"v":1546.83},
      {"lo":1546.875,"hi":1548.4375,"v":1548.41},
      {"lo":1548.4375,"hi":1550,"v":1550}
    ],
    "ticks": [
      {"x":1450},{"x":1460},{"x":1470},{"x":1480},{"x":1490},{"x":1500},
      {"x":1510},{"x":1520},{"x":1530},{"x":1540},{"x":1550}
    ]
  },
  "vconcat": [
    {
      "hconcat": [
        {
          "width": 278, "height": 250,
          "data": {"name": "left"},
          "mark": {"type": "arc", "strokeWidth": 0.8},
          "encoding": {
            "theta": {"field": "t", "type": "quantitative", "stack": null, "scale": {"domain": [0, 360]}},
            "theta2": {"field": "t2"},
            "radius": {"field": "r", "type": "quantitative", "scale": {"type": "linear", "domain": [0, 1], "range": [0, 125], "zero": true}},
            "radius2": {"field": "r2"},
            "fill": {"field": "v", "type": "quantitative", "legend": null, "scale": {"domain": [1450, 1500, 1550], "range": ["#ff0000", "#ffffff", "#0000ff"], "interpolate": "rgb"}},
            "stroke": {"field": "v", "type": "quantitative", "legend": null, "scale": {"domain": [1450, 1500, 1550], "range": ["#ff0000", "#ffffff", "#0000ff"], "interpolate": "rgb"}}
          }
        },
        {
          "width": 278, "height": 250,
          "data": {"name": "right"},
          "mark": {"type": "arc", "strokeWidth": 0.8},
          "encoding": {
            "theta": {"field": "t", "type": "quantitative", "stack": null, "scale": {"domain": [0, 360]}},
            "theta2": {"field": "t2"},
            "radius": {"field": "r", "type": "quantitative", "scale": {"type": "linear", "domain": [0, 1], "range": [0, 125], "zero": true}},
            "radius2": {"field": "r2"},
            "fill": {"field": "v", "type": "quantitative", "legend": null, "scale": {"domain": [1450, 1500, 1550], "range": ["#ff0000", "#ffffff", "#0000ff"], "interpolate": "rgb"}},
            "stroke": {"field": "v", "type": "quantitative", "legend": null, "scale": {"domain": [1450, 1500, 1550], "range": ["#ff0000", "#ffffff", "#0000ff"], "interpolate": "rgb"}}
          }
        }
      ],
      "spacing": 53
    },
    {
      "width": 613, "height": 30,
      "view": {"stroke": "black", "strokeWidth": 1},
      "title": {"text": "Velocity (m/s)", "fontSize": 26, "font": "Liberation Sans", "fontWeight": "normal", "anchor": "middle", "color": "black", "offset": 7},
      "layer": [
        {
          "data": {"name": "bar"},
          "mark": {"type": "rect", "strokeWidth": 0.6},
          "encoding": {
            "x": {"field": "lo", "type": "quantitative", "scale": {"domain": [1450, 1550], "nice": false, "zero": false},
              "axis": {"values": [1450,1460,1470,1480,1490,1500,1510,1520,1530,1540,1550], "format": "d", "ticks": false, "domain": false, "grid": false, "title": null, "labelFontSize": 15, "labelFont": "Liberation Sans", "labelColor": "black", "labelPadding": 5, "labelFlush": false, "labelOverlap": false}},
            "x2": {"field": "hi"},
            "fill": {"field": "v", "type": "quantitative", "legend": null, "scale": {"domain": [1450, 1500, 1550], "range": ["#ff0000", "#ffffff", "#0000ff"], "interpolate": "rgb"}},
            "stroke": {"field": "v", "type": "quantitative", "legend": null, "scale": {"domain": [1450, 1500, 1550], "range": ["#ff0000", "#ffffff", "#0000ff"], "interpolate": "rgb"}}
          }
        },
        {
          "data": {"name": "ticks"},
          "mark": {"type": "rule", "color": "black", "strokeWidth": 1},
          "encoding": {
            "x": {"field": "x", "type": "quantitative"},
            "y": {"datum": 0, "type": "quantitative", "scale": {"domain": [0, 1], "nice": false}, "axis": null},
            "y2": {"datum": 0.17}
          }
        },
        {
          "data": {"name": "ticks"},
          "mark": {"type": "rule", "color": "black", "strokeWidth": 1},
          "encoding": {
            "x": {"field": "x", "type": "quantitative"},
            "y": {"datum": 0.83, "type": "quantitative"},
            "y2": {"datum": 1}
          }
        }
      ]
    }
  ],
  "spacing": 38
}
